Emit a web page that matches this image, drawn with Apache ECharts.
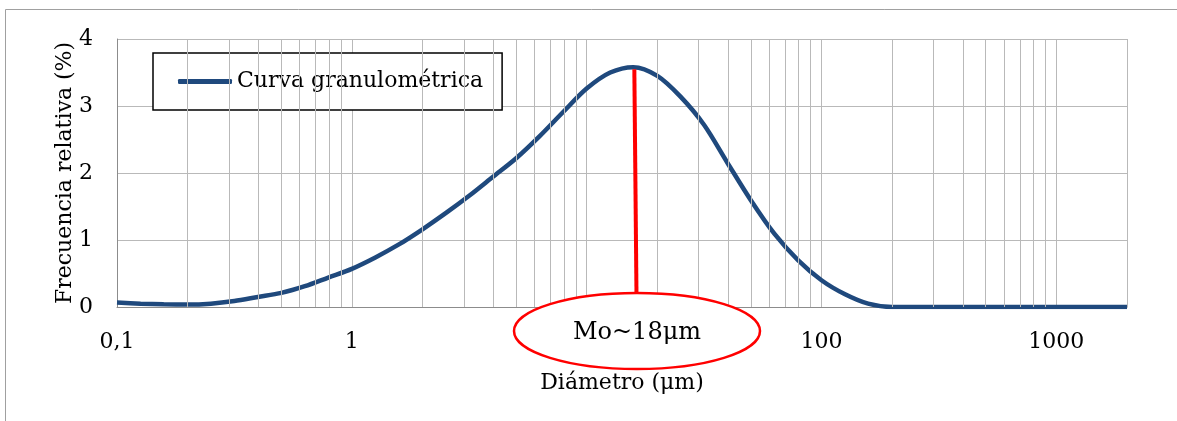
<!DOCTYPE html>
<html>
<head>
<meta charset="utf-8">
<script src="https://cdn.jsdelivr.net/npm/echarts@6/dist/echarts.min.js"></script>
<style>
html,body{margin:0;padding:0;background:#fff;}
#c{width:1177px;height:421px;}
</style>
</head>
<body>
<div id="c"></div>
<script>
// ---- data ----
const diameters = [0.1, 0.126, 0.158, 0.2, 0.251, 0.316, 0.398, 0.501, 0.631, 0.794, 1.0, 1.26, 1.58, 2.0, 2.51, 3.16, 3.98, 5.01, 6.31, 7.94, 10, 12.6, 15.8, 20, 25.1, 31.6, 39.8, 50.1, 63.1, 79.4, 100, 126, 158, 200, 251, 316, 398, 501, 631, 794, 1000, 1259, 1585, 2000];
const frequencies = [0.066, 0.05, 0.04, 0.036, 0.05, 0.09, 0.15, 0.21, 0.31, 0.44, 0.57, 0.74, 0.93, 1.16, 1.40, 1.66, 1.94, 2.22, 2.55, 2.91, 3.26, 3.50, 3.58, 3.45, 3.14, 2.72, 2.15, 1.59, 1.09, 0.70, 0.40, 0.19, 0.05, 0, 0, 0, 0, 0, 0, 0, 0, 0, 0, 0];
const seriesName = 'Curva granulométrica';
const xTickValues = [0.1, 1, 10, 100, 1000];
const xTickLabels = ['0,1', '1', '10', '100', '1000'];
const yTicks = [0, 1, 2, 3, 4];
const modeLabel = 'Mo~18μm';
const modeLine = [[15.96, 3.55], [16.3, 0.2]];
const xAxisTitle = 'Diámetro (μm)';
const yAxisTitle = 'Frecuencia relativa (%)';

// minor log grid positions (2..9 x decade)
const minorGrid = [];
[0.1, 1, 10, 100].forEach(dec => { for (let k = 2; k <= 9; k++) minorGrid.push(+(dec * k).toPrecision(3)); });

const FONT = 'DejaVu Serif';
const chart = echarts.init(document.getElementById('c'));
chart.setOption({
  animation: false,
  backgroundColor: '#fff',
  grid: { left: 117, right: 50, top: 39, bottom: 114, containLabel: false },
  legend: {
    left: 153, top: 53,
    padding: [15, 19, 15, 25],
    borderColor: '#000', borderWidth: 1.5,
    backgroundColor: '#fff',
    icon: 'roundRect',
    itemWidth: 54, itemHeight: 5, itemGap: 5,
    textStyle: { fontFamily: FONT, fontSize: 22, color: '#000', lineHeight: 27 },
    data: [seriesName]
  },
  xAxis: {
    type: 'log', logBase: 10, min: 0.1, max: 2000,
    name: xAxisTitle, nameLocation: 'middle', nameGap: 65, nameMoveOverlap: false,
    nameTextStyle: { fontFamily: FONT, fontSize: 22, color: '#000' },
    axisLine: { show: true, lineStyle: { color: '#8c8c8c', width: 1 } },
    axisTick: { show: false },
    axisLabel: {
      fontFamily: FONT, fontSize: 22, color: '#000', margin: 24,
      showMaxLabel: false,
      formatter: v => {
        const i = xTickValues.findIndex(t => Math.abs(Math.log10(t) - Math.log10(v)) < 1e-6);
        return i >= 0 ? xTickLabels[i] : '';
      }
    },
    splitLine: { show: true, lineStyle: { color: '#b9b9b9', width: 1 } }
  },
  yAxis: {
    type: 'value', min: yTicks[0], max: yTicks[yTicks.length - 1], interval: 1,
    name: yAxisTitle, nameLocation: 'middle', nameGap: 41, nameMoveOverlap: false,
    nameTextStyle: { fontFamily: FONT, fontSize: 22, color: '#000' },
    axisLine: { show: true, lineStyle: { color: '#8c8c8c', width: 1 } },
    axisTick: { show: false },
    axisLabel: { fontFamily: FONT, fontSize: 22, color: '#000', margin: 24 },
    splitLine: { show: true, lineStyle: { color: '#b9b9b9', width: 1 } }
  },
  series: [
    {
      name: 'grid-minor', type: 'line', data: [], silent: true,
      markLine: {
        silent: true, symbol: 'none', animation: false,
        label: { show: false },
        lineStyle: { color: '#b9b9b9', width: 1, type: 'solid' },
        data: minorGrid.map(v => ({ xAxis: v }))
      },
      z: 1
    },
    {
      name: seriesName, type: 'line',
      data: diameters.map((d, i) => [d, frequencies[i]]),
      smooth: 0.3,
      symbol: 'none',
      lineStyle: { color: '#1f497d', width: 4.5 },
      itemStyle: { color: '#1f497d' },
      z: 3,
      markLine: {
        silent: true, symbol: 'none', animation: false,
        label: { show: false },
        lineStyle: { color: '#ff0000', width: 4, type: 'solid' },
        data: [[{ coord: modeLine[0] }, { coord: modeLine[1] }]]
      }
    }
  ],
  graphic: [
    { type: 'rect', z: 0, silent: true, shape: { x: 5.5, y: 9.5, width: 1200, height: 420 },
      style: { fill: null, stroke: '#a0a0a0', lineWidth: 1 } },
    { type: 'ellipse', z: 100, silent: true, shape: { cx: 637, cy: 331, rx: 123, ry: 38 },
      style: { fill: '#fff', stroke: '#ff0000', lineWidth: 2.5 } },
    { type: 'text', z: 101, silent: true, x: 637, y: 333,
      style: { text: modeLabel, fill: '#000', font: '24px "DejaVu Serif"', align: 'center', verticalAlign: 'middle' } }
  ]
});
</script>
</body>
</html>
